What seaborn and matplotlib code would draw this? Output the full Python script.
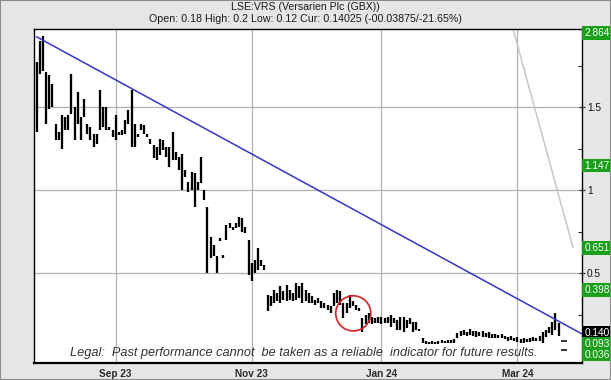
import numpy as np
import pandas as pd
import matplotlib
matplotlib.use("Agg")
import matplotlib.pyplot as plt
import seaborn as sns
from matplotlib.transforms import blended_transform_factory
from matplotlib.patches import Rectangle

# ---------------- data ----------------
start_date = "2023-07-27"
end_date = "2024-03-20"
uk_holidays = ["2023-08-28", "2023-12-25", "2023-12-26", "2024-01-01"]

highs = [1.77, 1.90, 1.93, 1.71, 1.69, 1.64, 1.40, 1.35, 1.45, 1.44,
         1.45, 1.70, 1.50, 1.59, 1.44, 1.55, 1.40, 1.38, 1.34, 1.34,
         1.60, 1.50, 1.50, 1.38, 1.36, 1.45, 1.35, 1.36, 1.42, 1.48,
         1.60, 1.40, 1.34, 1.40, 1.39, 1.34, 1.31, 1.27, 1.26, 1.31,
         1.30, 1.26, 1.26, 1.35, 1.23, 1.20, 1.22, 1.12, 1.05, 1.11,
         1.10, 1.05, 1.20, 1.00, 0.90, 0.72, 0.67, 0.60, 0.71, 0.61,
         0.79, 0.80, 0.78, 0.80, 0.84, 0.83, 0.78, 0.70, 0.56, 0.58,
         0.65, 0.58, 0.55, 0.37, 0.36, 0.40, 0.38, 0.42, 0.39, 0.43,
         0.40, 0.38, 0.44, 0.42, 0.44, 0.40, 0.38, 0.36, 0.34, 0.35,
         0.33, 0.32, 0.31, 0.30, 0.38, 0.40, 0.39, 0.32, 0.32, 0.37,
         0.33, 0.31, 0.29, 0.23, 0.25, 0.26, 0.235, 0.23, 0.235, 0.235,
         0.23, 0.235, 0.25, 0.23, 0.217, 0.235, 0.235, 0.217, 0.23, 0.205,
         0.205, 0.16, 0.108, 0.09, 0.085, 0.09, 0.085, 0.09, 0.095, 0.09,
         0.096, 0.095, 0.10, 0.14, 0.15, 0.157, 0.145, 0.16, 0.15, 0.15,
         0.145, 0.15, 0.14, 0.145, 0.135, 0.13, 0.127, 0.13, 0.12, 0.115,
         0.12, 0.11, 0.115, 0.105, 0.11, 0.10, 0.11, 0.115, 0.11, 0.12,
         0.145, 0.157, 0.175, 0.205, 0.26, 0.20]

lows = [1.35, 1.70, 1.72, 1.40, 1.49, 1.50, 1.30, 1.30, 1.25, 1.36,
        1.36, 1.46, 1.30, 1.40, 1.30, 1.44, 1.34, 1.30, 1.26, 1.28,
        1.36, 1.38, 1.36, 1.36, 1.32, 1.30, 1.33, 1.33, 1.34, 1.40,
        1.26, 1.26, 1.32, 1.36, 1.34, 1.32, 1.28, 1.19, 1.18, 1.21,
        1.24, 1.20, 1.14, 1.18, 1.18, 1.12, 1.00, 1.08, 0.99, 1.00,
        0.90, 1.00, 1.04, 0.94, 0.50, 0.59, 0.60, 0.50, 0.69, 0.59,
        0.70, 0.77, 0.76, 0.77, 0.78, 0.75, 0.74, 0.49, 0.45, 0.50,
        0.52, 0.54, 0.52, 0.27, 0.30, 0.32, 0.33, 0.32, 0.34, 0.33,
        0.34, 0.33, 0.34, 0.35, 0.32, 0.33, 0.32, 0.32, 0.31, 0.32,
        0.29, 0.29, 0.28, 0.26, 0.30, 0.32, 0.31, 0.23, 0.26, 0.29,
        0.30, 0.28, 0.27, 0.145, 0.19, 0.20, 0.19, 0.20, 0.20, 0.19,
        0.20, 0.20, 0.175, 0.20, 0.157, 0.157, 0.145, 0.169, 0.19, 0.145,
        0.157, 0.15, 0.078, 0.075, 0.07, 0.072, 0.07, 0.075, 0.078, 0.078,
        0.08, 0.078, 0.08, 0.11, 0.12, 0.125, 0.12, 0.125, 0.12, 0.115,
        0.12, 0.115, 0.115, 0.11, 0.11, 0.11, 0.108, 0.11, 0.10, 0.09,
        0.095, 0.09, 0.085, 0.08, 0.08, 0.085, 0.085, 0.09, 0.09, 0.09,
        0.08, 0.114, 0.14, 0.127, 0.157, 0.12]

month_ticks = ["2023-09-01", "2023-11-01", "2024-01-02", "2024-03-01"]
month_labels = ["Sep 23", "Nov 23", "Jan 24", "Mar 24"]

ytick_values = [0.5, 1.0, 1.5]
ytick_labels = ["0.5", "1", "1.5"]
minor_ytick_values = [0.25, 0.75, 1.25, 1.75]

level_values = [2.864, 1.147, 0.651, 0.398, 0.14025, 0.093, 0.036]
level_labels = ["2.864", "1.147", "0.651", "0.398", "0.140", "0.093", "0.036"]
level_colors = ["#19a019", "#19a019", "#19a019", "#19a019", "#000000", "#19a019", "#19a019"]

target_values = [0.093, 0.036]

# trend lines (trading-day offset, price)
blue_trend_x = [0.0, 172.4]
blue_trend_y = [1.923, 0.133]
gray_trend_x = [148.0, 169.6]
gray_trend_y = [2.15, 0.651]

# highlight circle (trading-day offset, price)
circle_x = [100.1]
circle_y = [0.257]

title = "LSE:VRS (Versarien Plc (GBX))"
subtitle = "Open: 0.18 High: 0.2 Low: 0.12 Cur: 0.14025 (-00.03875/-21.65%)"
legal = "Legal:  Past performance cannot  be taken as a reliable  indicator for future results."

# ---------------- build ----------------
dates = pd.bdate_range(start_date, end_date, freq="C", holidays=uk_holidays)
n = min(len(dates), len(highs))
pos = np.arange(n)

bars = pd.DataFrame({
    "x": np.concatenate([pos, pos]),
    "price": np.concatenate([highs[:n], lows[:n]]),
    "bar": np.concatenate([pos, pos]),
})

sns.set_theme(style="white")
plt.rcParams["font.family"] = ["Liberation Sans", "DejaVu Sans"]

W, H = 611, 380
fig = plt.figure(figsize=(W / 100, H / 100), dpi=100, facecolor="#e6e6e6")
ax = fig.add_axes([34 / W, 1 - 363 / H, 548 / W, 334 / H])
ax.set_facecolor("white")

ax.set_xlim(-0.82, 172.4)
ax.set_ylim(-0.042, 1.970)

# grid
tick_pos = [int(dates.searchsorted(pd.Timestamp(d))) for d in month_ticks]
for tp in tick_pos:
    ax.axvline(tp, color="#b0b0b0", lw=0.9, zorder=0)
for yv in ytick_values:
    ax.axhline(yv, color="#b0b0b0", lw=0.9, zorder=0)

# price bars
sns.lineplot(data=bars, x="x", y="price", units="bar", estimator=None,
             color="black", linewidth=1.65, ax=ax, legend=False, sort=False)
for line in ax.lines[-n:]:
    line.set_solid_capstyle("butt")

# trend lines
sns.lineplot(x=blue_trend_x, y=blue_trend_y, color="#3434c6", linewidth=1.1, ax=ax)
sns.lineplot(x=gray_trend_x, y=gray_trend_y, color="#c9c9c0", linewidth=1.1, ax=ax)

# circle
ax.scatter(circle_x, circle_y, s=640, facecolors="none", edgecolors="#d42323",
           linewidths=1.2, zorder=5)

# target dashes
sns.scatterplot(x=[n + 0.7] * len(target_values), y=target_values, marker="_",
                s=25, color="black", linewidth=1.1, ax=ax, legend=False, zorder=6)

# axes styling
ax.set_xlabel("")
ax.set_ylabel("")
ax.set_xticks(tick_pos)
ax.set_xticklabels(month_labels, fontsize=7.2, fontweight="bold", color="#2a2a2a")
ax.tick_params(axis="x", direction="out", length=3, width=0.8, pad=1.5, color="#333333")

ax.yaxis.tick_right()
ax.set_yticks(ytick_values)
ax.set_yticklabels(ytick_labels, fontsize=7.3, color="#111111")
ax.set_yticks(minor_ytick_values, minor=True)
ax.tick_params(axis="y", which="major", direction="inout", length=5, width=0.8, pad=1.0)
ax.tick_params(axis="y", which="minor", direction="in", length=3, width=0.8, right=True)

for side in ["left", "right", "top"]:
    ax.spines[side].set_color("black")
    ax.spines[side].set_linewidth(1.0)
ax.spines["bottom"].set_color("black")
ax.spines["bottom"].set_linewidth(1.6)

# level labels on right axis
trans = blended_transform_factory(ax.transAxes, ax.transData)
y_top = 1.946
min_gap = 0.066
order = np.argsort(level_values)[::-1]
placed = {}
prev = None
for k in order:
    y = min(level_values[k], y_top)
    if prev is not None and prev - y < min_gap:
        y = prev - min_gap
    placed[k] = y
    prev = y
for k in order:
    ax.text(1.004, placed[k], level_labels[k], transform=trans, ha="left", va="center",
            fontsize=7.3, color="white", clip_on=False, zorder=10,
            bbox=dict(boxstyle="square,pad=0.18", fc=level_colors[k], ec="none"))

# titles
fig.text(0.5, 1 - 7 / H, title, ha="center", va="center", fontsize=7.6, color="#1a1a1a")
fig.text(0.5, 1 - 19 / H, subtitle, ha="center", va="center", fontsize=7.7, color="#1a1a1a")

# legal text
fig.text(303.5 / W, 1 - 353 / H, legal, ha="center", va="center", fontsize=9.2,
         style="italic", color="#333333")

# outer border
fig.patches.append(Rectangle((0, 0), 1, 1, transform=fig.transFigure, fill=False,
                             ec="#8c8c8c", lw=1.5))

fig.savefig("out.png", dpi=100, facecolor=fig.get_facecolor())
